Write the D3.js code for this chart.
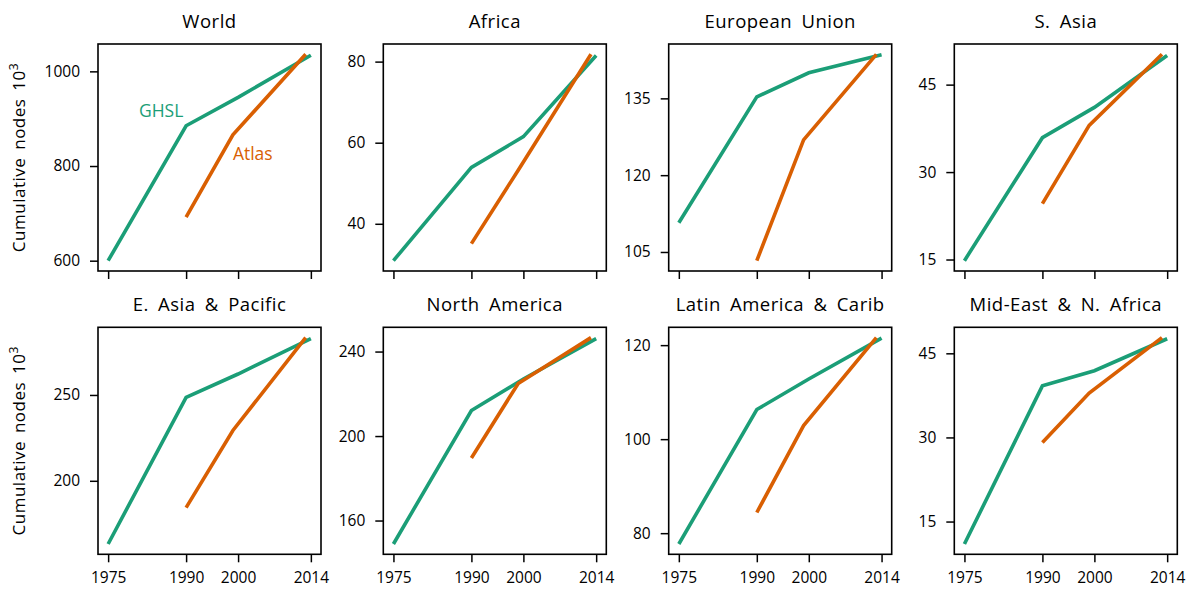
<!DOCTYPE html>
<html lang="en">

<head>
	<meta charset="UTF-8">
	<script type="text/javascript" src="https://cdnjs.cloudflare.com/ajax/libs/d3/7.8.5/d3.min.js"></script>
	<title>Cumulative nodes</title>
	<style>
		body { margin: 0; background: #fff; }
		text { font-family: "Open Sans", Lato, sans-serif; fill: #000; }
	</style>
</head>

<body>
	<div id="draw-here"></div>
	<script>
		/*Data (thousands of nodes)*/
		var regions = ["World", "Africa", "European Union", "S. Asia",
			"E. Asia & Pacific", "North America", "Latin America & Carib", "Mid-East & N. Africa"];

		var ghslYears = [1975, 1990, 2000, 2014];
		var atlasYears = [1990, 1999, 2013];
		var yearTicks = [1975, 1990, 2000, 2014];

		var ghslValues = [
			[600, 885, 945, 1034],
			[30.9, 53.9, 61.5, 81.5],
			[110.7, 135.3, 140, 143.5],
			[14.8, 35.9, 41.1, 50.0],
			[163.2, 248.6, 262.2, 282.8],
			[148.9, 212.1, 227, 246.1],
			[77.7, 106.3, 112.8, 121.5],
			[11.0, 39.2, 41.9, 47.6]
		];

		var atlasValues = [
			[692, 866, 1036],
			[35.1, 53.2, 81.8],
			[103.3, 126.9, 143.6],
			[24.6, 38.0, 50.2],
			[184.4, 229.3, 283.4],
			[189.6, 224.9, 246.6],
			[84.4, 102.9, 121.6],
			[29.1, 37.9, 47.8]
		];

		var valueTicks = [
			[600, 800, 1000],
			[40, 60, 80],
			[105, 120, 135],
			[15, 30, 45],
			[200, 250],
			[160, 200, 240],
			[80, 100, 120],
			[15, 30, 45]
		];

		/*Size of figure and panels*/
		var w = 1195;
		var h = 593;
		var panelW = 223;
		var panelH = 227;
		var lefts = [98, 383.3, 668.7, 954.3];
		var tops = [44, 327.3];

		var green = "#1b9e77";
		var orange = "#d95f02";

		var svg = d3.select("#draw-here")
			.append("svg")
			.attr("width", w)
			.attr("height", h);

		/*matplotlib style 5% margin round the data*/
		function padded(lo, hi) {
			var pad = (hi - lo) * 0.05;
			return [lo - pad, hi + pad];
		}

		regions.forEach(function(name, i) {
			var col = i % 4;
			var row = Math.floor(i / 4);
			var g = svg.append("g")
				.attr("transform", "translate(" + lefts[col] + "," + tops[row] + ")");

			var allYears = ghslYears.concat(atlasYears);
			var allValues = ghslValues[i].concat(atlasValues[i]);

			var x = d3.scaleLinear()
				.domain(padded(d3.min(allYears), d3.max(allYears)))
				.range([0, panelW]);
			var y = d3.scaleLinear()
				.domain(padded(d3.min(allValues), d3.max(allValues)))
				.range([panelH, 0]);

			/*axes*/
			var xAxis = d3.axisBottom(x)
				.tickValues(yearTicks)
				.tickSize(8)
				.tickPadding(10)
				.tickFormat(row === 1 ? d3.format("d") : function() { return ""; });
			var yAxis = d3.axisLeft(y)
				.tickValues(valueTicks[i])
				.tickSize(8)
				.tickPadding(10)
				.tickFormat(d3.format("d"));

			var gx = g.append("g")
				.attr("transform", "translate(0," + panelH + ")")
				.call(xAxis);
			var gy = g.append("g").call(yAxis);

			[gx, gy].forEach(function(a) {
				a.select(".domain").remove();
				a.selectAll(".tick line").attr("stroke", "#000").attr("stroke-width", 1.5);
				a.selectAll(".tick text").attr("font-size", "15.5px").attr("fill", "#000");
			});

			/*lines*/
			var line = d3.line()
				.x(function(d) { return x(d[0]); })
				.y(function(d) { return y(d[1]); });

			g.append("path")
				.datum(d3.zip(ghslYears, ghslValues[i]))
				.attr("d", line)
				.attr("fill", "none")
				.attr("stroke", green)
				.attr("stroke-width", 3.6);

			g.append("path")
				.datum(d3.zip(atlasYears, atlasValues[i]))
				.attr("d", line)
				.attr("fill", "none")
				.attr("stroke", orange)
				.attr("stroke-width", 3.6);

			/*frame*/
			g.append("rect")
				.attr("width", panelW)
				.attr("height", panelH)
				.attr("fill", "none")
				.attr("stroke", "#000")
				.attr("stroke-width", 1.6);

			/*title*/
			g.append("text")
				.attr("x", panelW / 2)
				.attr("y", -16)
				.attr("text-anchor", "middle")
				.attr("font-size", "18.5px")
				.style("letter-spacing", "0.5px")
				.style("word-spacing", "4px")
				.text(name);

			/*y label on first column*/
			if (col === 0) {
				var lab = g.append("text")
					.attr("transform", "translate(-73," + (panelH / 2) + ") rotate(-90)")
					.attr("text-anchor", "middle")
					.attr("font-size", "17px")
					.style("letter-spacing", "0.5px")
					.style("word-spacing", "3px");
				lab.append("tspan").text("Cumulative nodes 10");
				lab.append("tspan").attr("dy", -7).attr("font-size", "12px").text("3");
			}

			/*series labels in the World panel*/
			if (i === 0) {
				g.append("text")
					.attr("x", x(1985.2))
					.attr("y", y(904))
					.attr("text-anchor", "middle")
					.attr("font-size", "17.5px")
					.style("fill", green)
					.text("GHSL");
				g.append("text")
					.attr("x", x(1999))
					.attr("y", y(812))
					.attr("font-size", "17.5px")
					.style("fill", orange)
					.text("Atlas");
			}
		});
	</script>
</body>

</html>
